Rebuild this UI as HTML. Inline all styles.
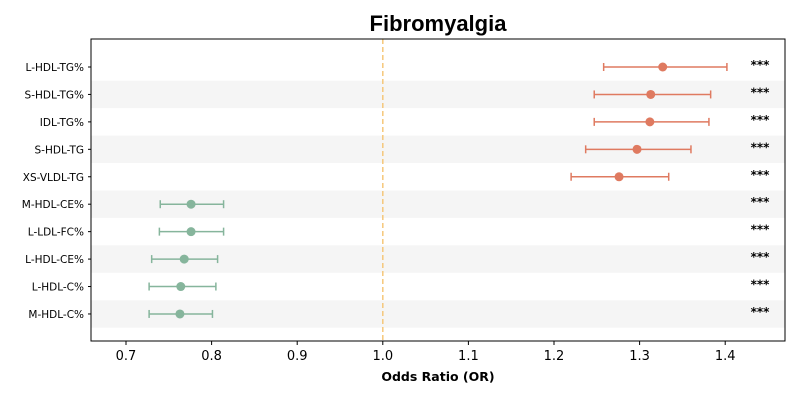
<!DOCTYPE html>
<html><head><meta charset="utf-8"><style>
body{margin:0;background:#fff;width:800px;height:400px;overflow:hidden;font-family:"DejaVu Sans",sans-serif}
</style></head><body>
<svg id="chart" width="800" height="400" xmlns="http://www.w3.org/2000/svg">
<text x="438" y="31" text-anchor="middle" font-size="22" font-weight="bold" font-family="Liberation Sans, sans-serif">Fibromyalgia</text>
<g id="bands"></g>
<g id="marks"></g>
<rect x="91" y="39" width="694" height="302" fill="none" stroke="#000" stroke-width="1"/>
<text x="438" y="381" text-anchor="middle" font-size="12.5" font-weight="bold" font-family="DejaVu Sans, sans-serif">Odds Ratio (OR)</text>
</svg>
<script>
const labels=["L-HDL-TG%","S-HDL-TG%","IDL-TG%","S-HDL-TG","XS-VLDL-TG","M-HDL-CE%","L-LDL-FC%","L-HDL-CE%","L-HDL-C%","M-HDL-C%"];
const orValues=[1.327,1.313,1.312,1.297,1.276,0.776,0.776,0.768,0.764,0.763];
const ciLow=[1.258,1.247,1.247,1.237,1.220,0.740,0.739,0.730,0.727,0.727];
const ciHigh=[1.402,1.383,1.381,1.360,1.334,0.814,0.814,0.807,0.805,0.801];
const sig=["***","***","***","***","***","***","***","***","***","***"];
const xTicks=[0.7,0.8,0.9,1.0,1.1,1.2,1.3,1.4];
const NS="http://www.w3.org/2000/svg";
const x=v=>126+(v-0.7)*856;
const y=i=>67+i*27.44;
const bands=document.getElementById('bands'),marks=document.getElementById('marks'),svg=document.getElementById('chart');
function mk(p,tag,attrs){const e=document.createElementNS(NS,tag);for(const k in attrs)e.setAttribute(k,attrs[k]);p.appendChild(e);return e;}
labels.forEach((l,i)=>{
 if(i%2===1){const b=mk(bands,'rect',{x:91,y:y(i)-13.72,width:694,height:27.44,fill:'#f5f5f5'});
 
 }
});
const ref=mk(marks,'line',{x1:x(1),x2:x(1),y1:39,y2:341,stroke:'#f5c77a','stroke-width':1.5,'stroke-dasharray':'5,3'});


labels.forEach((l,i)=>{
 const c=orValues[i]>1?'#df7a60':'#86b59c';
 const g=mk(marks,'g',{});
 
 
 const yy=y(i);
 mk(g,'line',{x1:x(ciLow[i]),x2:x(ciHigh[i]),y1:yy,y2:yy,stroke:c,'stroke-width':1.5});
 mk(g,'line',{x1:x(ciLow[i]),x2:x(ciLow[i]),y1:yy-4,y2:yy+4,stroke:c,'stroke-width':1.5});
 mk(g,'line',{x1:x(ciHigh[i]),x2:x(ciHigh[i]),y1:yy-4,y2:yy+4,stroke:c,'stroke-width':1.5});
 mk(g,'circle',{cx:x(orValues[i]),cy:yy,r:4.5,fill:c});
 const s=mk(svg,'text',{x:760,y:yy+2,'text-anchor':'middle','font-size':12,'font-weight':'bold','font-family':'DejaVu Sans, sans-serif'});
 s.textContent=sig[i];
 
 
 const t=mk(svg,'text',{x:84,y:yy+4,'text-anchor':'end','font-size':10.5,'font-family':'DejaVu Sans, sans-serif'});
 t.textContent=l;
 
 
 mk(svg,'line',{x1:88,x2:91,y1:yy,y2:yy,stroke:'#000'});
});
xTicks.forEach(v=>{
 mk(svg,'line',{x1:x(v),x2:x(v),y1:341,y2:345,stroke:'#000'});
 const t=mk(svg,'text',{x:x(v),y:360,'text-anchor':'middle','font-size':13,'font-family':'DejaVu Sans, sans-serif'});
 t.textContent=v.toFixed(1);
 
 
});
</script>
</body></html>
